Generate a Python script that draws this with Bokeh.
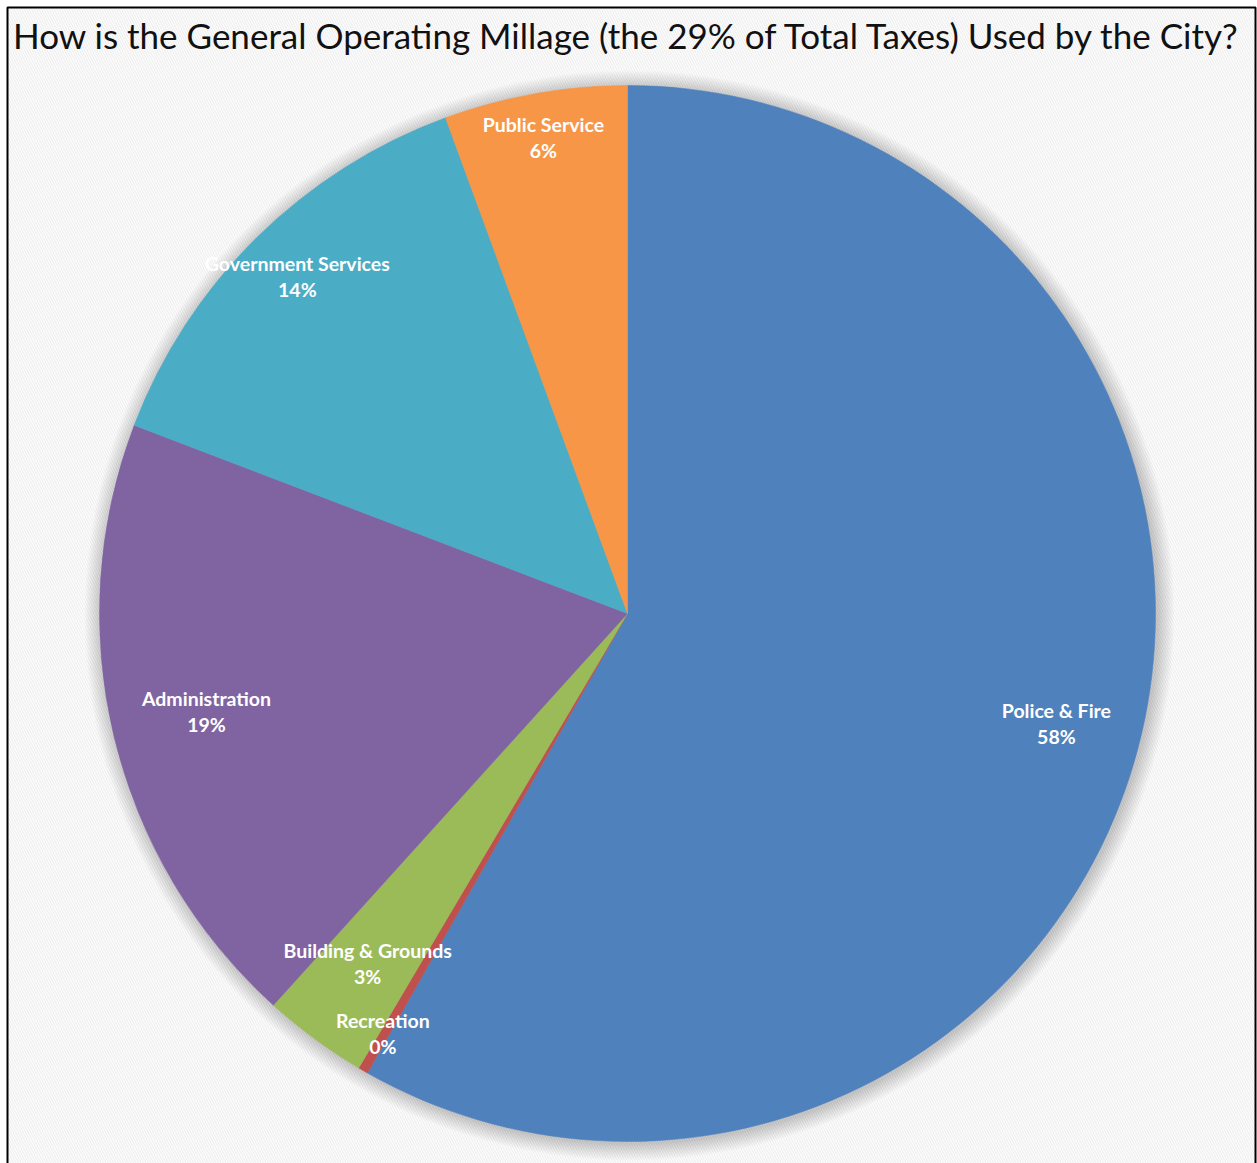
import math
from bokeh.plotting import figure
from bokeh.models import Range1d, BoxAnnotation, ColumnDataSource
from bokeh.core.properties import value
from bokeh.embed import file_html
from bokeh.resources import INLINE

# ---- data ----
categories = ["Police & Fire", "Recreation", "Building & Grounds",
              "Administration", "Government Services", "Public Service"]
shares = [58.2, 0.3, 3.2, 19.1, 13.6, 5.6]
colors = ["#4F81BD", "#C0504D", "#9BBB59", "#8064A2", "#4BACC6", "#F79646"]
title_text = "How is the General Operating Millage (the 29% of Total Taxes) Used by the City?"

# ---- layout config ----
W, H = 1257, 1163
CX, CY = 627, H - 613
R = 528
label_r = [0.84, 0.925, 0.83, 0.82, 0.89, 0.91]

total = sum(shares)
starts, ends, lx, ly = [], [], [], []
cum = 0.0
for i, s in enumerate(shares):
    a0 = math.pi / 2 - 2 * math.pi * cum / total
    cum += s
    a1 = math.pi / 2 - 2 * math.pi * cum / total
    starts.append(a0)
    ends.append(a1)
    mid = (a0 + a1) / 2
    lx.append(CX + R * label_r[i] * math.cos(mid))
    ly.append(CY + R * label_r[i] * math.sin(mid) + 3)

pct = ["{:.0f}%".format(s / total * 100) for s in shares]

src = ColumnDataSource(dict(
    cat=categories, start=starts, end=ends, color=colors, pct=pct,
    lx=lx, ly_name=[y + 13 for y in ly], ly_pct=[y - 13 for y in ly],
    cx=[CX] * len(shares), cy=[CY] * len(shares),
))

p = figure(width=W, height=H, x_range=Range1d(0, W), y_range=Range1d(0, H),
           output_backend="svg", toolbar_location=None, min_border=0)
p.axis.visible = False
p.grid.visible = False
p.outline_line_color = None
p.background_fill_color = "white"
p.border_fill_color = "white"

# striped chart-area background
p.add_layout(BoxAnnotation(left=7, right=1255, bottom=-10, top=H - 7,
                           fill_color="white", fill_alpha=1.0, line_color=None,
                           hatch_pattern="\\", hatch_color="#f0f0f0",
                           hatch_scale=5, hatch_weight=1.4, level="underlay"))

# soft shadow around the pie
for k in range(1, 18):
    p.circle(x=CX + 2, y=CY - 2, radius=R + k, fill_color="black",
             fill_alpha=0.011, line_color=None)

p.wedge(x="cx", y="cy", radius=R, start_angle="start", end_angle="end",
        direction="clock", fill_color="color", line_color="color",
        line_width=0.5, source=src)

p.text(x="lx", y="ly_name", text="cat", source=src, text_color="white",
       text_font=value("Lato"), text_font_style="bold", text_font_size="19.5px",
       text_align="center", text_baseline="middle")
p.text(x="lx", y="ly_pct", text="pct", source=src, text_color="white",
       text_font=value("Lato"), text_font_style="bold", text_font_size="19.5px",
       text_align="center", text_baseline="middle")

p.text(x=[627], y=[H - 34], text=[title_text], text_color="#111111",
       text_font=value("Lato"), text_font_size="35px",
       text_align="center", text_baseline="middle")

# frame border
p.add_layout(BoxAnnotation(left=7, right=1255, bottom=-10, top=H - 7,
                           fill_alpha=0, line_color="black", line_alpha=1.0,
                           line_width=2))

open("out.html", "w").write(file_html(p, INLINE))
